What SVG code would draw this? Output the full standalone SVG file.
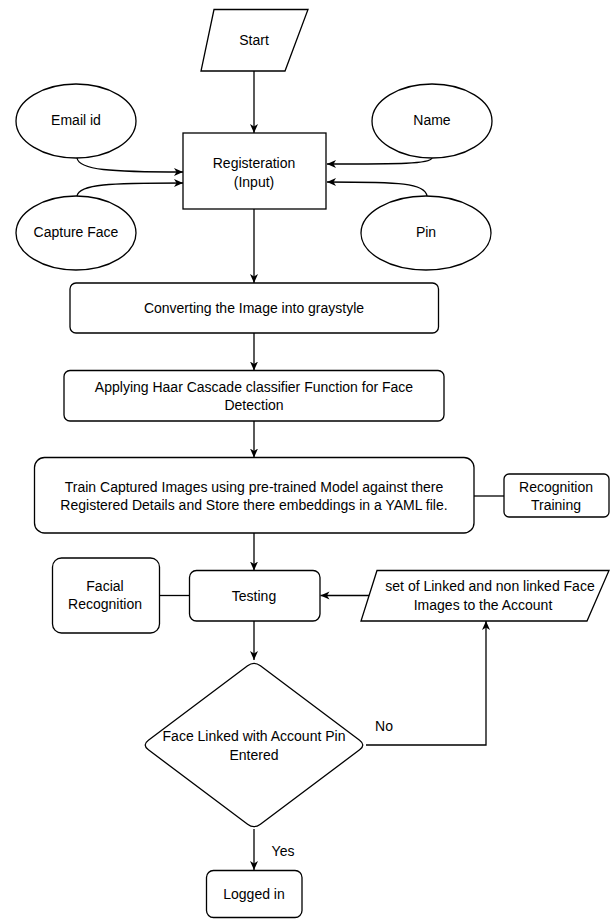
<svg xmlns="http://www.w3.org/2000/svg" width="610" height="919" viewBox="0 0 610 919">
  <defs>
    <marker id="arrow" markerUnits="userSpaceOnUse" markerWidth="10" markerHeight="10" refX="9" refY="5" orient="auto">
      <path d="M0,1 L9,5 L0,9 L2.5,5 Z" fill="#000"/>
    </marker>
    <style>
      .shape { fill: #fff; stroke: #000; stroke-width: 1.3; }
      .edge { fill: none; stroke: #000; stroke-width: 1.3; }
      .arrowed { marker-end: url(#arrow); }
      text { font-family: "Liberation Sans", Arial, sans-serif; font-size: 14px; fill: #000; text-anchor: middle; dominant-baseline: central; }
    </style>
  </defs>
  <rect width="610" height="919" fill="#fff"/>

  <!-- connectors -->
  <g id="connectors">
    <path class="edge arrowed" d="M254,71 L254,133"/>
    <path class="edge arrowed" d="M77,158 C79,170 110,172 183,172"/>
    <path class="edge arrowed" d="M77,196 C79,184 110,183 183,183"/>
    <path class="edge arrowed" d="M432,158 C430,164 400,164 327,164"/>
    <path class="edge arrowed" d="M427,196 C425,183 400,182 327,182"/>
    <path class="edge arrowed" d="M254,209 L254,283"/>
    <path class="edge arrowed" d="M254,333 L254,370.5"/>
    <path class="edge arrowed" d="M254,421 L254,457.5"/>
    <path class="edge" d="M474,496 L504,496"/>
    <path class="edge arrowed" d="M254,533 L254,570.5"/>
    <path class="edge" d="M159.5,595.5 L189.5,595.5"/>
    <path class="edge arrowed" d="M370,595.5 L320.5,595.5"/>
    <path class="edge arrowed" d="M254,621 L254,660"/>
    <path class="edge arrowed" d="M366,745 L486,745 L486,621"/>
    <path class="edge arrowed" d="M254,829 L254,870"/>
    <text x="384" y="726">No</text>
    <text x="283" y="851">Yes</text>
  </g>

  <g id="start">
    <path class="shape" d="M214,9.5 L308,9.5 L285,71 L201,71 Z"/>
    <text x="254" y="40">Start</text>
  </g>

  <g id="email">
    <ellipse class="shape" cx="76" cy="121" rx="60" ry="37"/>
    <text x="76" y="120">Email id</text>
  </g>

  <g id="name">
    <ellipse class="shape" cx="432" cy="121" rx="60" ry="37"/>
    <text x="432" y="120">Name</text>
  </g>

  <g id="capture-face">
    <ellipse class="shape" cx="76" cy="233" rx="60" ry="37"/>
    <text x="76" y="232">Capture Face</text>
  </g>

  <g id="pin">
    <ellipse class="shape" cx="426" cy="233" rx="65" ry="37"/>
    <text x="426" y="232">Pin</text>
  </g>

  <g id="registration">
    <rect class="shape" x="183" y="133" width="143" height="76"/>
    <text x="254" y="163">Registeration</text>
    <text x="254" y="182">(Input)</text>
  </g>

  <g id="grayscale">
    <rect class="shape" x="70" y="283" width="368.5" height="50" rx="6"/>
    <text x="254" y="308">Converting the Image into graystyle</text>
  </g>

  <g id="haar">
    <rect class="shape" x="64" y="370.5" width="380" height="50.5" rx="6"/>
    <text x="254" y="386.5">Applying Haar Cascade classifier Function for Face</text>
    <text x="254" y="405">Detection</text>
  </g>

  <g id="train">
    <rect class="shape" x="34.5" y="457.5" width="439.5" height="75.5" rx="10"/>
    <text x="254" y="487">Train Captured Images using pre-trained Model against there</text>
    <text x="254" y="505">Registered Details and Store there embeddings in a YAML file.</text>
  </g>

  <g id="recognition-training">
    <rect class="shape" x="504" y="474" width="105" height="43" rx="5"/>
    <text x="556" y="487">Recognition</text>
    <text x="556" y="505">Training</text>
  </g>

  <g id="facial-recognition">
    <rect class="shape" x="52.5" y="558" width="107" height="75" rx="9"/>
    <text x="105" y="586">Facial</text>
    <text x="105" y="604">Recognition</text>
  </g>

  <g id="testing">
    <rect class="shape" x="189.5" y="570.5" width="130.5" height="50.5" rx="7"/>
    <text x="254" y="595.5">Testing</text>
  </g>

  <g id="face-images">
    <path class="shape" d="M377,570.5 L609,570.5 L587,621 L361,621 Z"/>
    <text x="490" y="586">set of Linked and non linked Face</text>
    <text x="483" y="604.5">Images to the Account</text>
  </g>

  <g id="decision">
    <path class="shape" d="M260.4,665.8 L359.6,740.2 Q366,745 359.6,749.8 L260.4,824.2 Q254,829 247.6,824.2 L148.4,749.8 Q142,745 148.4,740.2 L247.6,665.8 Q254,661 260.4,665.8 Z"/>
    <text x="254" y="736">Face Linked with Account Pin</text>
    <text x="254" y="755">Entered</text>
  </g>

  <g id="logged-in">
    <rect class="shape" x="206.5" y="870.5" width="95.5" height="47" rx="7"/>
    <text x="254" y="894">Logged in</text>
  </g>
</svg>
